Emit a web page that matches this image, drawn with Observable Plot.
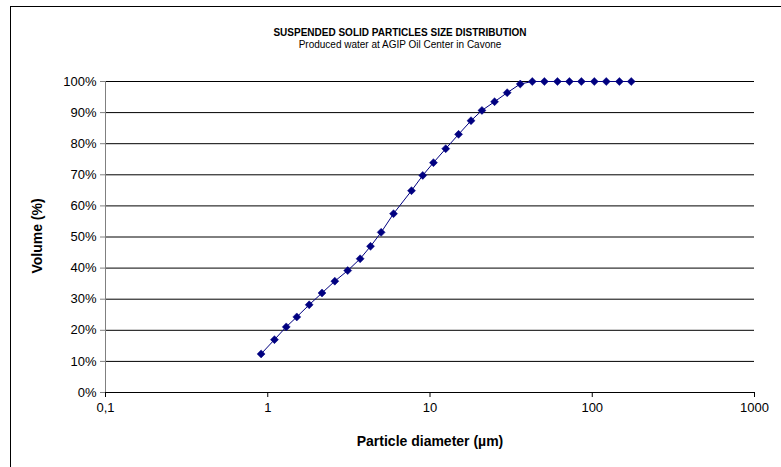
<!DOCTYPE html>
<html>
<head>
<meta charset="utf-8">
<script src="https://cdn.jsdelivr.net/npm/d3@7"></script>
<script src="https://cdn.jsdelivr.net/npm/@observablehq/plot@0.6"></script>
<style>
  html, body { margin: 0; padding: 0; background: #fff; }
  #wrap { position: relative; width: 781px; height: 467px; overflow: hidden; font-family: "Liberation Sans", Arial, sans-serif; }
  #frame { position: absolute; left: 10px; top: 6px; width: 800px; height: 500px; border-left: 1px solid #000; border-top: 1px solid #000; }
  #chart { position: absolute; left: 0; top: 0; }
  .t { position: absolute; white-space: nowrap; color: #000; }
  #title { left: 400px; top: 27px; transform: translateX(-50%); font-weight: bold; font-size: 10px; }
  #subtitle { left: 400px; top: 39px; transform: translateX(-50%); font-size: 10px; }
  #xlabel { left: 430px; top: 433px; transform: translateX(-50%); font-weight: bold; font-size: 14px; }
  #ylabel { left: 37px; top: 236px; transform: translate(-50%, -50%) rotate(-90deg); font-weight: bold; font-size: 14px; }
</style>
</head>
<body>
<div id="wrap">
  <div id="frame"></div>
  <div id="chart"></div>
  <div class="t" id="title">SUSPENDED SOLID PARTICLES SIZE DISTRIBUTION</div>
  <div class="t" id="subtitle">Produced water at AGIP Oil Center in Cavone</div>
  <div class="t" id="xlabel">Particle diameter (µm)</div>
  <div class="t" id="ylabel">Volume (%)</div>
</div>
<script>
// Particle diameter (µm)
const diameters = [0.91, 1.10, 1.30, 1.51, 1.80, 2.16, 2.59, 3.11, 3.71, 4.30, 5.00, 5.96, 7.69, 9.02, 10.5, 12.5, 15.0, 17.9, 20.9, 25.0, 29.9, 36.0, 42.7, 50.7, 61.0, 72.3, 85.7, 103, 122, 147, 174];
// Cumulative volume (fraction)
const volumes = [0.124, 0.170, 0.211, 0.243, 0.282, 0.320, 0.358, 0.392, 0.430, 0.470, 0.515, 0.575, 0.649, 0.698, 0.739, 0.784, 0.830, 0.874, 0.907, 0.935, 0.964, 0.992, 1.0, 1.0, 1.0, 1.0, 1.0, 1.0, 1.0, 1.0, 1.0];
const xTicks = [0.1, 1, 10, 100, 1000];
const yTicks = [0, 0.1, 0.2, 0.3, 0.4, 0.5, 0.6, 0.7, 0.8, 0.9, 1.0];
const gridLines = [0.1, 0.2, 0.3, 0.4, 0.5, 0.6, 0.7, 0.8, 0.9, 1.0];

const data = diameters.map((d, i) => ({d, v: volumes[i]}));
const navy = "#000080";

const chart = Plot.plot({
  width: 781,
  height: 467,
  marginLeft: 105,
  marginRight: 27,
  marginTop: 81,
  marginBottom: 75,
  style: { fontFamily: "'Liberation Sans', Arial, sans-serif", fontSize: "13px", color: "#000", background: "transparent" },
  x: { type: "log", domain: [0.1, 1000] },
  y: { domain: [0, 1] },
  marks: [
    Plot.ruleY(gridLines, { stroke: "#000", strokeWidth: 1 }),
    Plot.axisX({ ticks: xTicks, tickFormat: d => d === 0.1 ? "0,1" : String(d), tickSize: 5, tickPadding: 5, label: null, stroke: "#000", fill: "#000", fontSize: 13 }),
    Plot.axisY({ ticks: yTicks, tickFormat: d3.format(".0%"), tickSize: 5, tickPadding: 4, label: null, stroke: "#808080", fill: "#000", fontSize: 13 }),
    Plot.ruleX([0.1], { stroke: "#808080" }),
    Plot.ruleY([0], { stroke: "#000" }),
    Plot.line(data, { x: "d", y: "v", stroke: navy, strokeWidth: 1 }),
    Plot.dot(data, { x: "d", y: "v", symbol: "diamond2", r: 3.6, fill: navy, stroke: navy, strokeWidth: 0.5 })
  ]
});
document.getElementById("chart").appendChild(chart);
</script>
</body>
</html>
